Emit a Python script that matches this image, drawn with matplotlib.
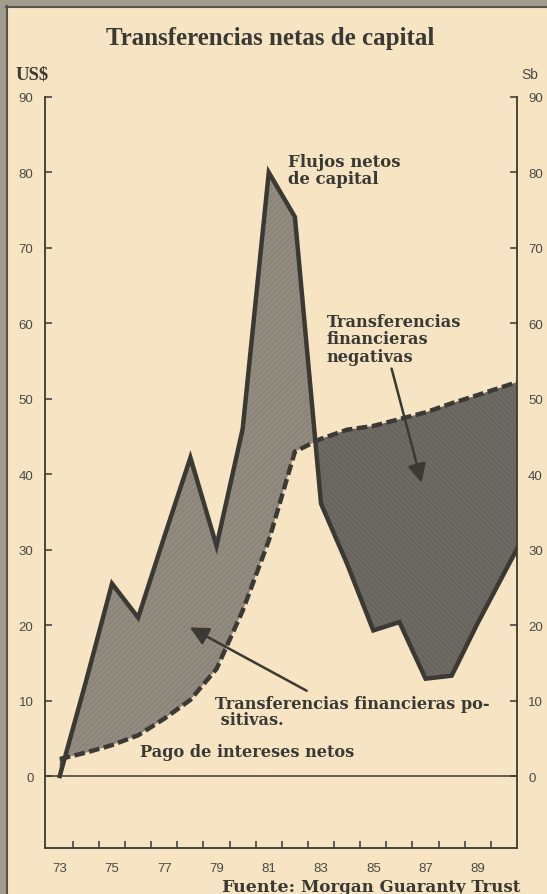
import matplotlib
matplotlib.use('Agg')
import matplotlib.pyplot as plt
from matplotlib.patches import Rectangle
from matplotlib.lines import Line2D

# ---------------- data ----------------
years = [73, 74, 75, 76, 77, 78, 79, 80, 81, 82, 83, 84, 85, 86, 87, 88, 89, 90.5]
flujos_netos = [0, 12.5, 25.5, 21.0, 31.7, 42.2, 30.5, 46.0, 80.0, 74.1,
                36.1, 28.1, 19.3, 20.4, 12.9, 13.3, 20.3, 30.1]
intereses_netos = [2.25, 3.1, 4.1, 5.4, 7.6, 10.1, 14.2, 21.9, 31.2, 43.0,
                   44.7, 45.9, 46.4, 47.3, 48.2, 49.4, 50.5, 52.2]
xtick_years = [73, 75, 77, 79, 81, 83, 85, 87, 89]
xtick_labels = ['73', '75', '77', '79', '81', '83', '85', '87', '89']
yticks = [0, 10, 20, 30, 40, 50, 60, 70, 80, 90]

# ---------------- style ----------------
W, H = 547, 895
BG = '#f6e4c3'
INK = '#3a3934'
POS_FILL = '#928b80'
NEG_FILL = '#6d6a64'
plt.rcParams['hatch.linewidth'] = 0.35

fig = plt.figure(figsize=(W / 100, H / 100), dpi=100, facecolor=BG)

def fx(px):
    return px / W

def fy(py):
    return 1 - py / H

ax = fig.add_axes([fx(44.6), fy(849), fx(517) - fx(44.6), fy(98) - fy(849)])
ax.set_facecolor(BG)
ax.set_xlim(72.42, 90.5)
ax.set_ylim(-9.54, 90.0)

# fills
ax.fill_between(years, flujos_netos, intereses_netos,
                where=[f >= i for f, i in zip(flujos_netos, intereses_netos)],
                interpolate=True, facecolor=POS_FILL, edgecolor='#7b756b',
                hatch='//////', linewidth=0, zorder=2)
ax.fill_between(years, flujos_netos, intereses_netos,
                where=[f <= i for f, i in zip(flujos_netos, intereses_netos)],
                interpolate=True, facecolor=NEG_FILL, edgecolor='#5a5853',
                hatch='\\\\\\\\\\\\', linewidth=0, zorder=2)

# lines
ax.axhline(0, color=INK, lw=1.1, zorder=3)
ax.plot(years, intereses_netos, color=INK, lw=3.2, linestyle=(0, (2.4, 1.0)),
        solid_capstyle='butt', zorder=4)
ax.plot(years, flujos_netos, color=INK, lw=3.2, solid_joinstyle='miter', zorder=5)

# spines
for s in ['left', 'right', 'bottom']:
    ax.spines[s].set_color(INK)
    ax.spines[s].set_linewidth(1.3)
ax.spines['top'].set_visible(False)

# ticks
ax.set_yticks(yticks)
ax.set_yticklabels([str(v) for v in yticks])
ax.tick_params(axis='y', which='major', direction='in', length=5, width=1.1,
               color=INK, left=True, right=True, labelleft=True, labelright=True,
               pad=8, labelsize=9.5, labelcolor='#4a4945')
for lab in ax.get_yticklabels():
    lab.set_fontfamily('Liberation Sans')

ax.set_xticks(xtick_years)
ax.set_xticklabels(xtick_labels, fontfamily='Liberation Sans')
ax.set_xticks([y + 0.5 for y in range(73, 90)], minor=True)
ax.tick_params(axis='x', which='major', length=0, pad=10, labelsize=9.5,
               labelcolor='#4a4945')
ax.tick_params(axis='x', which='minor', direction='in', length=5, width=1.1,
               color=INK)

# annotations
ann_font = dict(family='DejaVu Serif', weight='bold', color=INK)
ax.text(81.74, 82.6, 'Flujos netos\nde capital', ha='left', va='top',
        linespacing=1.0, fontsize=11.9, **ann_font)
ax.text(83.22, 61.4, 'Transferencias\nfinancieras\nnegativas', ha='left', va='top',
        linespacing=1.05, fontsize=11.7, **ann_font)
ax.text(78.94, 10.8, 'Transferencias financieras po-\n sitivas.', ha='left', va='top',
        linespacing=0.95, fontsize=11.6, **ann_font)
ax.text(76.07, 2.65, 'Pago de intereses netos', ha='left', va='baseline',
        fontsize=11.6, **ann_font)

arrow_kw = dict(arrowstyle='-|>,head_length=0.8,head_width=0.4', color=INK,
                lw=1.8, shrinkA=0, shrinkB=0, mutation_scale=14)
ax.annotate('', xy=(77.98, 19.7), xytext=(82.45, 11.3),
            arrowprops=arrow_kw, zorder=6)
ax.annotate('', xy=(86.85, 38.9), xytext=(85.7, 54.0),
            arrowprops=arrow_kw, zorder=6)

# titles / axis units / source
fig.text(fx(270), fy(38), 'Transferencias netas de capital', ha='center', va='center',
         family='Liberation Serif', weight='bold', fontsize=18, color=INK)
fig.text(fx(15.7), fy(75), 'US$', ha='left', va='center',
         family='Liberation Serif', weight='bold', fontsize=13.5, color=INK)
fig.text(fx(521), fy(75), 'Sb', ha='left', va='center',
         family='Liberation Sans', fontsize=10, color='#4a4945')
fig.text(fx(221), fy(892), 'Fuente:', ha='left', va='baseline',
         family='DejaVu Serif', weight='bold', fontsize=12.5, color=INK)
fig.text(fx(301), fy(892), 'Morgan Guaranty Trust', ha='left', va='baseline',
         family='DejaVu Serif', weight='bold', fontsize=12, color=INK)

# newsprint border
fig.add_artist(Rectangle((0, 0), fx(6), 1, transform=fig.transFigure,
                         facecolor='#a19c8e', edgecolor='none', zorder=0))
fig.add_artist(Rectangle((0, fy(7)), 1, 1 - fy(7), transform=fig.transFigure,
                         facecolor='#a19c8e', edgecolor='none', zorder=0))
fig.add_artist(Line2D([fx(7), fx(7)], [0, fy(7)], transform=fig.transFigure,
                      color='#55534d', lw=1.5))
fig.add_artist(Line2D([fx(6), 1], [fy(8), fy(8)], transform=fig.transFigure,
                      color='#55534d', lw=1.5))

fig.savefig('out.png', dpi=100, facecolor=BG)
